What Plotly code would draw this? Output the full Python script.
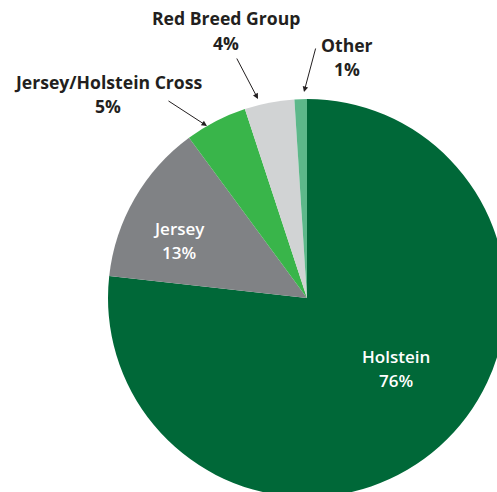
import plotly.graph_objects as go

# Breed share of the herd (percent)
breeds = ["Holstein", "Jersey", "Jersey/Holstein Cross", "Red Breed Group", "Other"]
shares = [76, 13, 5, 4, 1]
colors = ["#006838", "#808285", "#39B54A", "#D1D3D4", "#5DB88A"]

W, H = 520, 500          # canvas is larger than the viewport so the pie bleeds off the edges
CX, CY, R = 307, 298, 199  # pie centre and radius in pixels


def px(x):
    return x / W


def py(y):
    return 1 - y / H


fig = go.Figure(
    go.Pie(
        labels=breeds,
        values=shares,
        sort=False,
        direction="clockwise",
        rotation=0,
        marker=dict(colors=colors, line=dict(width=0)),
        textinfo="none",
        hoverinfo="label+percent",
        showlegend=False,
        domain=dict(x=[px(CX - R), px(CX + R)], y=[py(CY + R), py(CY - R)]),
    )
)

FONT = "Open Sans"
label_font_dark = dict(family=FONT, size=17.6, color="#231F20", weight=700)
label_font_light = dict(family=FONT, size=17, color="#FFFFFF", weight=600)

# (name line centre x, name line centre y, percent line centre y, font)
label_pos = {
    "Holstein": (396, 356, 380, label_font_light),
    "Jersey": (179, 229, 252, label_font_light),
    "Jersey/Holstein Cross": (108, 82, 106, label_font_dark),
    "Red Breed Group": (226, 18, 43, label_font_dark),
    "Other": (347, 45, 69, label_font_dark),
}

annotations = []
for name, val in zip(breeds, shares):
    x, y1, y2, f = label_pos[name]
    for txt, yy in ((name, y1), (f"{val}%", y2)):
        annotations.append(dict(
            x=px(x), y=py(yy), xref="paper", yref="paper",
            text=txt, showarrow=False, font=f,
            xanchor="center", yanchor="middle",
        ))

# leader lines for the small slices: (head x, head y, tail x, tail y)
leaders = [
    (207, 126, 167, 100),
    (258, 99, 236, 57),
    (304, 92, 316, 47),
]
for hx, hy, tx, ty in leaders:
    annotations.append(dict(
        x=px(hx), y=py(hy), xref="paper", yref="paper",
        ax=tx - hx, ay=ty - hy, axref="pixel", ayref="pixel",
        text="", showarrow=True, arrowhead=2, arrowsize=1.1,
        arrowwidth=1, arrowcolor="#231F20", standoff=0,
    ))

fig.update_layout(
    width=W, height=H,
    margin=dict(l=0, r=0, t=0, b=0),
    paper_bgcolor="white",
    plot_bgcolor="white",
    annotations=annotations,
)

fig.write_html(
    "out.html",
    post_script="document.documentElement.style.overflow='hidden';"
                "document.body.style.overflow='hidden';document.body.style.margin='0';",
)
